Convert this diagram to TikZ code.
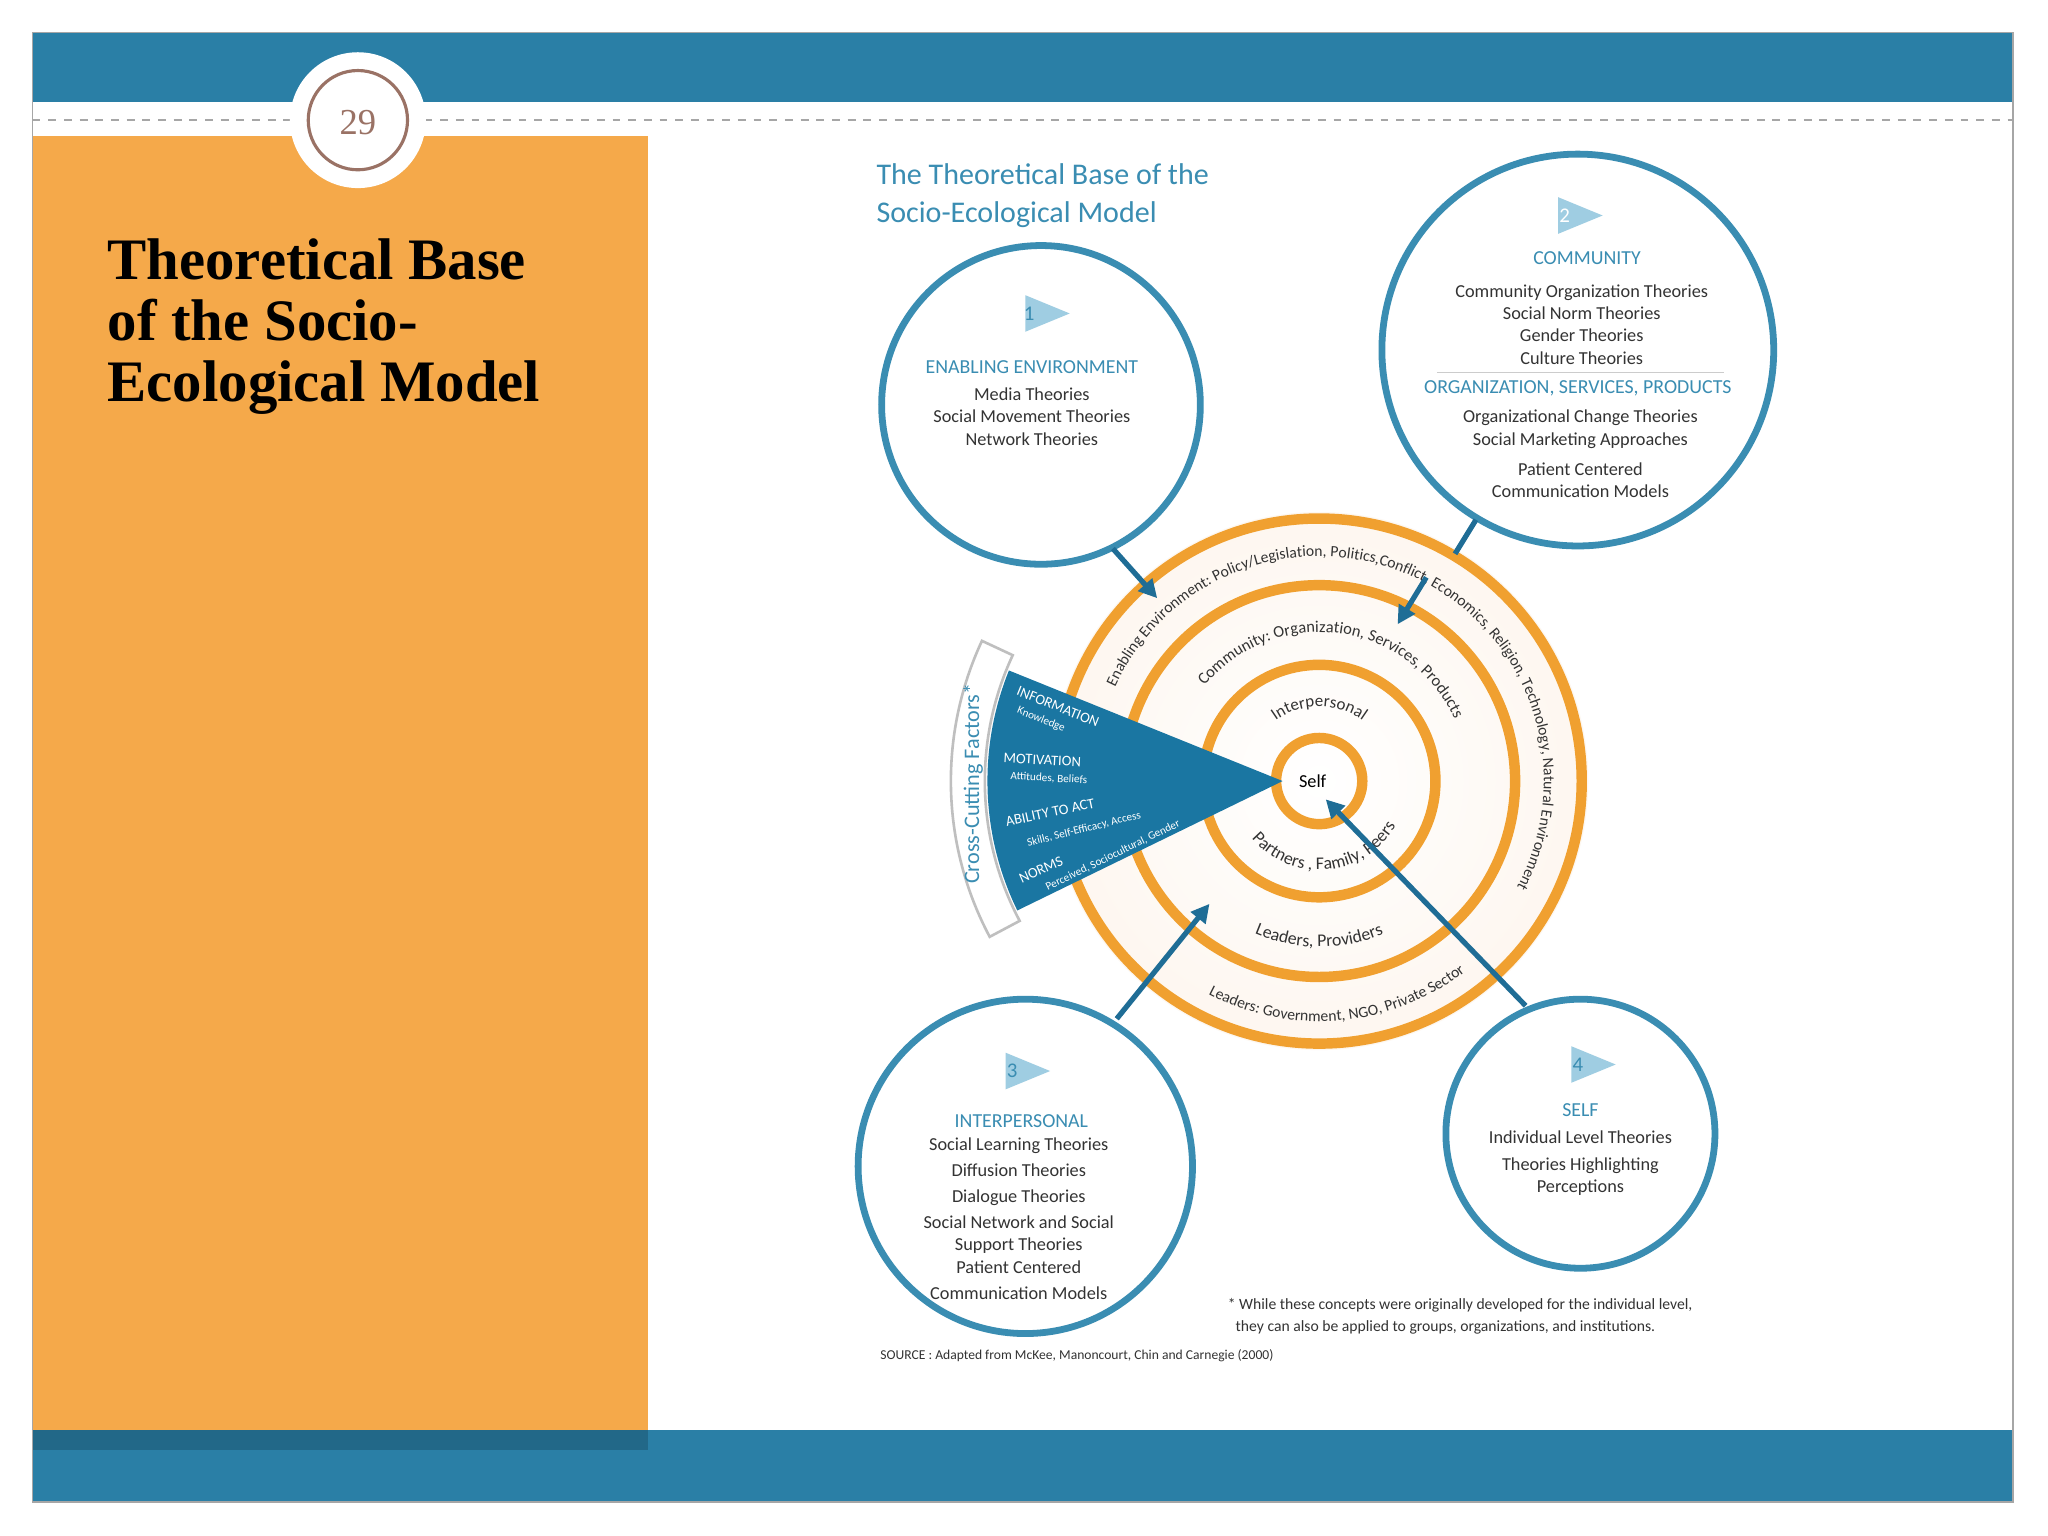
\documentclass[tikz,border=0pt]{standalone}
\usepackage{fontspec}
\setmainfont{Liberation Serif}
\newfontfamily\dfont{Carlito}
\usetikzlibrary{arrows.meta,decorations.text,shapes.geometric}
\definecolor{band}{HTML}{2A7FA6}
\definecolor{orpanel}{HTML}{F5A94A}
\definecolor{teal}{HTML}{3A8DB2}
\definecolor{ring}{HTML}{F0A030}
\definecolor{wedgec}{HTML}{1A76A2}
\definecolor{arrc}{HTML}{1F6D96}
\definecolor{tri}{HTML}{9FCDE2}
\definecolor{txt}{HTML}{333333}
\definecolor{brn}{HTML}{9A7265}
\tikzset{
 bigc/.style={draw=teal,line width=2.6pt,fill=white,inner sep=0pt},
 hd/.style={font=\dfont\fontsize{7.6}{9}\selectfont,text=teal},
 bd/.style={font=\dfont\fontsize{7}{8.5}\selectfont,text=txt},
 wt/.style={font=\dfont\fontsize{5.6}{6.5}\selectfont,text=white},
 ws/.style={font=\dfont\fontsize{4.3}{5}\selectfont,text=white},
 rg/.style={draw=ring,line width=4pt},
 ar/.style={draw=arrc,line width=2pt,-{Triangle[length=7pt,width=7pt]}},
 ln/.style={draw=arrc,line width=2pt},
}
\begin{document}
\begin{tikzpicture}[x=0.5pt,y=0.5pt]
\useasboundingbox (0,0) rectangle (1568,-1176);
\fill[white] (0,0) rectangle (1568,-1176);
% frame
\fill[band] (25,-25) rectangle (1541,-78);
\draw[gray!70,dashed,line width=0.6pt] (25,-92) -- (1541,-92);
\fill[orpanel] (25,-104) rectangle (496,-1110);
\fill[band] (25,-1095) rectangle (1541,-1150);
\fill[band!70!black,opacity=0.6] (25,-1095) rectangle (496,-1110);
\draw[gray!70,line width=0.6pt] (25,-25) rectangle (1541,-1150);
% page number
\fill[white] (274,-92) circle[radius=52];
\draw[brn,line width=1.2pt] (274,-92) circle[radius=38];
\node[font=\fontsize{14}{14}\selectfont,text=brn] (pn) at (274,-94) {29};
\node[anchor=north west,align=left,inner sep=0pt,font=\bfseries\fontsize{22.5}{23.5}\selectfont] (title) at (82,-182)
 {Theoretical Base\\of the Socio-\\Ecological Model};
% diagram title
\node[anchor=west,align=left,font=\dfont\fontsize{11.5}{14.5}\selectfont,text=teal] (dt) at (664,-150)
 {The Theoretical Base of the\\Socio-Ecological Model};
% rings
\shade[inner color=white,outer color=black!10!orange!6] (1010,-598) circle[radius=206];
\draw[rg] (1010,-598) circle[radius=201];
\draw[rg] (1010,-598) circle[radius=150];
\draw[rg] (1010,-598) circle[radius=89];
\draw[rg] (1010,-598) circle[radius=33];
\node[font=\dfont\fontsize{7}{8}\selectfont] (self) at (1005,-598) {Self};
\tikzset{dtx/.style={decorate,decoration={text along path,text align=center,text color=txt}}}
\path[dtx,decoration={text={|\dfont\fontsize{6}{6}\selectfont|Enabling Environment: Policy/Legislation, Politics,Conflict, Economics, Religion, Technology, Natural Environment}}]
 (1010,-598) ++(162:172) arc[start angle=162,end angle=-35,radius=172];
\path[dtx,decoration={text={|\dfont\fontsize{6.3}{6}\selectfont|Community: Organization, Services, Products}}]
 (1010,-598) ++(150:114) arc[start angle=150,end angle=15,radius=114];
\path[dtx,decoration={text={|\dfont\fontsize{6.5}{6}\selectfont|Interpersonal}}]
 (1010,-598) ++(140:57) arc[start angle=140,end angle=40,radius=57];
\path[dtx,decoration={text={|\dfont\fontsize{6.8}{6}\selectfont|Partners , Family, Peers}}]
 (1010,-598) ++(200:68) arc[start angle=200,end angle=350,radius=68];
\path[dtx,decoration={text={|\dfont\fontsize{6.8}{6}\selectfont|Leaders, Providers}}]
 (1010,-598) ++(235:127) arc[start angle=235,end angle=305,radius=127];
\path[dtx,decoration={text={|\dfont\fontsize{6}{6}\selectfont|Leaders: Government, NGO, Private Sector}}]
 (1010,-598) ++(228:184) arc[start angle=228,end angle=322,radius=184];
% cross cutting band & wedge
\draw[gray!50,line width=1pt,fill=white] (982,-598) ++(155:228) arc[start angle=155,end angle=208,radius=228]
 -- ++(208:26) arc[start angle=208,end angle=155,radius=254] -- cycle;
\node[rotate=90,font=\dfont\fontsize{8.5}{9}\selectfont,text=teal] (ccf) at (745,-600) {Cross-Cutting Factors*};
\fill[wedgec] (982,-598) -- ++(158:226) arc[start angle=158,end angle=206,radius=226] -- cycle;
\node[wt,rotate=-22] (inf) at (810,-541) {INFORMATION};
\node[ws,rotate=-22] (know) at (797,-551) {Knowledge};
\node[wt,rotate=-3] (mot) at (798,-582) {MOTIVATION};
\node[ws,rotate=-3] (att) at (803,-596) {Attitudes, Beliefs};
\node[wt,rotate=12] (abl) at (804,-622) {ABILITY TO ACT};
\node[ws,rotate=14] (skl) at (830,-635) {Skills, Self-Efficacy, Access};
\node[wt,rotate=24] (nrm) at (797,-666) {NORMS};
\node[ws,rotate=26] (prc) at (852,-655) {Perceived, Sociocultural, Gender};
% circles
\node[bigc,circle,minimum size=122pt] (c1) at (797,-310) {};
\node[bigc,circle,minimum size=150pt] (c2) at (1208,-268) {};
\node[bigc,circle,minimum size=128pt] (c3) at (785,-893) {};
\node[bigc,circle,minimum size=103pt] (c4) at (1210,-868) {};
% triangles
\fill[tri] (785,-226) -- (819,-240) -- (785,-254) -- cycle;
\node[font=\dfont\fontsize{8}{9}\selectfont,text=teal] (n1) at (788,-240) {1};
\fill[tri] (1193,-151) -- (1227,-165) -- (1193,-179) -- cycle;
\node[font=\dfont\fontsize{8}{9}\selectfont,text=white] (n2) at (1198,-165) {2};
\fill[tri] (770,-806) -- (804,-820) -- (770,-834) -- cycle;
\node[font=\dfont\fontsize{8}{9}\selectfont,text=teal] (n3) at (775,-820) {3};
\fill[tri] (1203,-801) -- (1237,-815) -- (1203,-829) -- cycle;
\node[font=\dfont\fontsize{8}{9}\selectfont,text=teal] (n4) at (1208,-815) {4};
% circle texts
\node[hd] (h1) at (790,-281) {ENABLING ENVIRONMENT};
\node[bd,align=center,anchor=north] (b1) at (790,-290) {Media Theories\\Social Movement Theories\\Network Theories};
\node[hd] (h2) at (1215,-198) {COMMUNITY};
\node[bd,align=center,anchor=north] (b2) at (1211,-211) {Community Organization Theories\\Social Norm Theories\\Gender Theories\\Culture Theories};
\draw[gray!40,line width=0.5pt] (1100,-285) -- (1320,-285);
\node[hd] (h2b) at (1208,-297) {ORGANIZATION, SERVICES, PRODUCTS};
\node[bd,align=center,anchor=north] (b2b) at (1210,-307) {Organizational Change Theories\\Social Marketing Approaches};
\node[bd,align=center,anchor=north] (b2c) at (1210,-347) {Patient Centered\\Communication Models};
\node[hd] (h3) at (782,-858) {INTERPERSONAL};
\node[bd,align=center,anchor=north] (b3) at (780,-864) {Social Learning Theories\\[1.5pt]Diffusion Theories\\[1.5pt]Dialogue Theories\\[1.5pt]Social Network and Social\\Support Theories\\Patient Centered\\[1.5pt]Communication Models};
\node[hd] (h4) at (1210,-850) {SELF};
\node[bd,align=center,anchor=north] (b4) at (1210,-859) {Individual Level Theories\\[1.5pt]Theories Highlighting\\Perceptions};
% arrows
\coordinate (a1s) at (852,-420); \coordinate (a1e) at (886,-458);
\draw[ar] (a1s) -- (a1e);
\coordinate (a2s) at (1130,-398); \coordinate (a2m) at (1114,-424);
\draw[ln] (a2s) -- (a2m);
\coordinate (a2t) at (1092,-442); \coordinate (a2e) at (1070,-478);
\draw[ar] (a2t) -- (a2e);
\coordinate (a3s) at (855,-780); \coordinate (a3e) at (926,-692);
\draw[ar] (a3s) -- (a3e);
\coordinate (a4s) at (1168,-770); \coordinate (a4e) at (1015,-612);
\draw[ar] (a4s) -- (a4e);
% footnotes
\node[anchor=west,align=left,font=\dfont\fontsize{6}{8.5}\selectfont,text=txt] (fn) at (933,-1008)
 {* While these concepts were originally developed for the individual level,\\\hspace*{3pt}they can also be applied to groups, organizations, and institutions.};
\node[anchor=west,font=\dfont\fontsize{5.2}{6}\selectfont,text=txt] (src) at (667,-1038)
 {SOURCE : Adapted from McKee, Manoncourt, Chin and Carnegie (2000)};
\end{tikzpicture}
\end{document}
